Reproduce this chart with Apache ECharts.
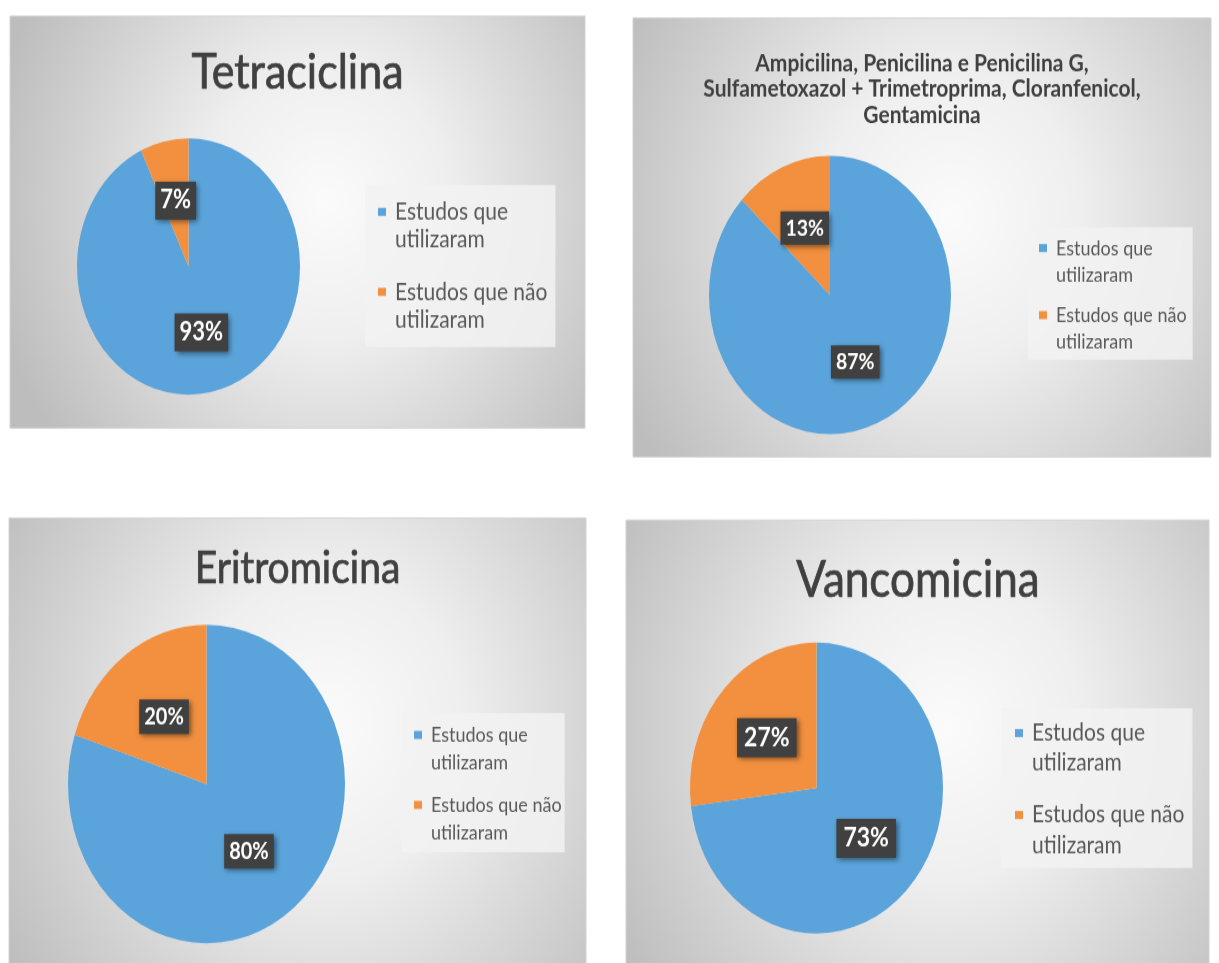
<!DOCTYPE html>
<html>
<head>
<meta charset="utf-8">
<script src="https://cdn.jsdelivr.net/npm/echarts@6/dist/echarts.min.js"></script>
<style>
html, body { margin: 0; padding: 0; background: #ffffff; overflow: hidden; }
#wrap { width: 1219px; height: 963px; overflow: hidden; }
#chart { width: 1219px; height: 837.4px; transform: scaleY(1.15); transform-origin: 0 0; }
</style>
</head>
<body>
<div id="wrap"><div id="chart"></div></div>
<script>
// ---- data ----
const categories = ['Estudos que utilizaram', 'Estudos que não utilizaram'];
const chartTitles = [
  'Tetraciclina',
  'Ampicilina, Penicilina e Penicilina G,\nSulfametoxazol + Trimetroprima, Cloranfenicol,\nGentamicina',
  'Eritromicina',
  'Vancomicina'
];
const usedPct = [93, 87, 80, 73];
const notUsedPct = [7, 13, 20, 27];

// ---- styling / layout ----
const colors = ['#5ba4db', '#f2903f'];
const S = 1.15;               // vertical stretch of the picture
const Y = v => v / S;         // screen y -> chart y
const FONT = 'Lato, "Open Sans", sans-serif';

const layout = [
  { box: [10, 16, 575, 412], center: [188.5, 266.5], r: 111.5,
    title: { x: 297.5, y: 73, size: 43, weight: 'normal', lh: 50, bw: 0.7 },
    legend: { left: 365, top: 185, pad: [11.2, 8, 11.4, 13], L: 24.3, f: 21, gap: 21 },
    label: { f: 22, pad: [5.5, 5] } },
  { box: [633, 18, 578, 439], center: [830, 295], r: 121,
    title: { x: 922, y: 89, size: 21, weight: 'bold', lh: 22.6, bw: 0 },
    legend: { left: 1028, top: 227, pad: [6.7, 6, 4, 11], L: 23.2, f: 18, gap: 11.9 },
    label: { f: 19.5, pad: [4.5, 5] } },
  { box: [9, 518, 577, 460], center: [206.5, 784], r: 138.5,
    title: { x: 297.5, y: 569, size: 39, weight: 'normal', lh: 46, bw: 0.7 },
    legend: { left: 402, top: 713, pad: [6.9, 3, 4.5, 12], L: 24.3, f: 18, gap: 12.3 },
    label: { f: 20, pad: [5, 5] } },
  { box: [626, 520, 583, 460], center: [816.5, 788], r: 126.5,
    title: { x: 918, y: 581, size: 44, weight: 'normal', lh: 52, bw: 0.7 },
    legend: { left: 1001, top: 708, pad: [8.7, 8, 7, 14], L: 26.1, f: 21, gap: 19.1 },
    label: { f: 23, pad: [5.5, 7] } }
];

function legendIcon(L) {
  const h = 2 * L, c = L / 2;
  return 'path://M12,0L12,0M0,' + (c - 3.5) + 'H8V' + (c + 3.5) + 'H0ZM0,' + h + 'L0,' + h;
}

const chart = echarts.init(document.getElementById('chart'), null, { renderer: 'canvas' });

const graphics = layout.map(p => ({
  type: 'rect',
  silent: true,
  z: 0,
  shape: { x: p.box[0], y: Y(p.box[1]), width: p.box[2], height: Y(p.box[3]) },
  style: {
    fill: new echarts.graphic.RadialGradient(0.55, 0.45, 0.95, [
      { offset: 0, color: '#fbfbfb' },
      { offset: 0.35, color: '#efefef' },
      { offset: 1, color: '#bdbdbd' }
    ]),
    stroke: '#d2d2d2',
    lineWidth: 1
  }
}));

const titles = layout.map((p, i) => ({
  text: chartTitles[i],
  left: p.title.x,
  top: Y(p.title.y),
  textAlign: 'center',
  textVerticalAlign: 'middle',
  padding: 0,
  textStyle: {
    fontFamily: FONT,
    fontSize: p.title.size,
    fontWeight: p.title.weight,
    color: '#404040',
    textBorderColor: '#404040',
    textBorderWidth: p.title.bw,
    lineHeight: p.title.lh
  }
}));

const legends = layout.map(p => ({
  orient: 'vertical',
  left: p.legend.left,
  top: Y(p.legend.top),
  padding: p.legend.pad,
  itemGap: p.legend.gap,
  itemWidth: 12,
  itemHeight: 2 * p.legend.L,
  icon: legendIcon(p.legend.L),
  backgroundColor: 'rgba(242,242,242,0.85)',
  selectedMode: false,
  data: categories,
  itemStyle: { borderWidth: 0 },
  formatter: name => name.replace(' utilizaram', '\nutilizaram'),
  textStyle: {
    fontFamily: FONT,
    fontSize: p.legend.f,
    lineHeight: p.legend.L,
    color: '#595959'
  }
}));

const series = layout.map((p, i) => ({
  type: 'pie',
  center: [p.center[0], Y(p.center[1])],
  radius: p.r,
  startAngle: 90,
  clockwise: true,
  avoidLabelOverlap: false,
  itemStyle: { borderWidth: 0 },
  emphasis: { disabled: true },
  labelLine: { show: false },
  label: {
    show: true,
    position: 'inside',
    formatter: '{c}%',
    fontFamily: FONT,
    fontSize: p.label.f,
    fontWeight: 'bold',
    color: '#ffffff',
    backgroundColor: '#404040',
    padding: p.label.pad,
    shadowColor: 'rgba(0,0,0,0.5)',
    shadowBlur: 5,
    shadowOffsetX: 2,
    shadowOffsetY: 2
  },
  data: [
    { name: categories[0], value: usedPct[i], itemStyle: { color: colors[0] } },
    { name: categories[1], value: notUsedPct[i], itemStyle: { color: colors[1] } }
  ]
}));

chart.setOption({
  animation: false,
  color: colors,
  graphic: { elements: graphics },
  title: titles,
  legend: legends,
  series: series
});
</script>
</body>
</html>
